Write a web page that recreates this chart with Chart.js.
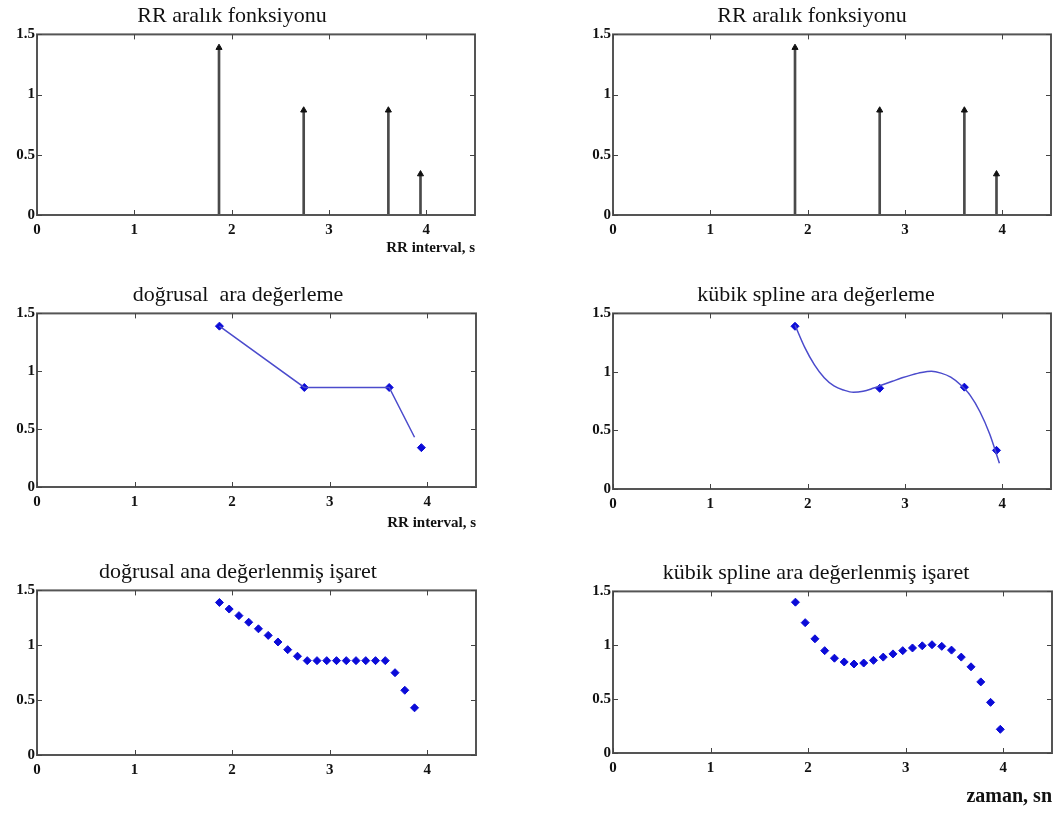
<!DOCTYPE html>
<html>
<head>
<meta charset="utf-8">
<script src="https://cdn.jsdelivr.net/npm/chart.js@4"></script>
<style>
  html, body { margin: 0; padding: 0; background: #fff; width: 1053px; height: 814px; overflow: hidden; position: relative; }
  canvas { position: absolute; }
</style>
</head>
<body>
<canvas id="c1"></canvas>
<canvas id="c2"></canvas>
<canvas id="c3"></canvas>
<canvas id="c4"></canvas>
<canvas id="c5"></canvas>
<canvas id="c6"></canvas>
<script>
// RR interval samples (stem plot)
const rrTimes = [1.87, 2.74, 3.61, 3.94];
const rrValues = [1.39, 0.87, 0.87, 0.34];

// linear interpolation line as drawn (stops at the last grid point)
const linearLineX = [1.87, 2.74, 3.61, 3.87];
const linearLineY = [1.39, 0.86, 0.86, 0.43];

// resampled grid
const sampleTimes = [1.87, 1.97, 2.07, 2.17, 2.27, 2.37, 2.47, 2.57, 2.67, 2.77, 2.87,
  2.97, 3.07, 3.17, 3.27, 3.37, 3.47, 3.57, 3.67, 3.77, 3.87];
const linearSamples = [1.39, 1.33, 1.27, 1.21, 1.15, 1.09, 1.03, 0.96, 0.90, 0.86, 0.86,
  0.86, 0.86, 0.86, 0.86, 0.86, 0.86, 0.86, 0.75, 0.59, 0.43];

const splineTimes = [1.87, 1.97, 2.07, 2.17, 2.27, 2.37, 2.47, 2.57, 2.67, 2.77, 2.87,
  2.97, 3.07, 3.17, 3.27, 3.37, 3.47, 3.57, 3.67, 3.77, 3.87, 3.97];
const splineSamples = [1.40, 1.21, 1.06, 0.95, 0.88, 0.845, 0.826, 0.835, 0.86, 0.89, 0.92,
  0.95, 0.975, 0.995, 1.005, 0.99, 0.955, 0.89, 0.80, 0.66, 0.47, 0.22];

const xTicks = [0, 1, 2, 3, 4];
const yTicks = [0, 0.5, 1, 1.5];

const blue = "#0b0bd8";
const lineBlue = "#4b4bcc";
const serif = "'Liberation Serif', 'DejaVu Serif', serif";

function pts(xs, ys) {
  return xs.map((x, i) => ({ x: x, y: ys[i] }));
}

// box around the plot + inward ticks, like the matlab axes
const boxPlugin = {
  id: "matBox",
  afterDraw(chart) {
    const { ctx, chartArea: a, scales } = chart;
    ctx.save();
    ctx.strokeStyle = "#555";
    ctx.lineWidth = 2;
    ctx.strokeRect(a.left, a.top, a.right - a.left, a.bottom - a.top);
    ctx.lineWidth = 1;
    ctx.strokeStyle = "#444";
    xTicks.forEach((v) => {
      const px = Math.round(scales.x.getPixelForValue(v)) + 0.5;
      ctx.beginPath();
      ctx.moveTo(px, a.bottom); ctx.lineTo(px, a.bottom - 5);
      ctx.moveTo(px, a.top); ctx.lineTo(px, a.top + 5);
      ctx.stroke();
    });
    yTicks.forEach((v) => {
      const py = Math.round(scales.y.getPixelForValue(v)) + 0.5;
      ctx.beginPath();
      ctx.moveTo(a.left, py); ctx.lineTo(a.left + 5, py);
      ctx.moveTo(a.right, py); ctx.lineTo(a.right - 5, py);
      ctx.stroke();
    });
    ctx.restore();
  },
};

function makeChart(id, g, title, datasets, xTitle, xTitleSize) {
  const canvas = document.getElementById(id);
  const w = g.R - g.L;
  const top = g.t - 31;
  const h = g.b + g.xH - top;
  canvas.width = w;
  canvas.height = h;
  canvas.style.left = g.L + "px";
  canvas.style.top = top + "px";
  canvas.style.width = w + "px";
  canvas.style.height = h + "px";

  return new Chart(canvas.getContext("2d"), {
    type: "scatter",
    data: { datasets: datasets },
    plugins: [boxPlugin],
    options: {
      responsive: false,
      animation: false,
      layout: { padding: { left: 0, right: g.R - g.r, top: 0, bottom: 0 } },
      plugins: {
        legend: { display: false },
        tooltip: { enabled: false },
        title: {
          display: true,
          text: title,
          color: "#111",
          font: { family: serif, size: 22, weight: "normal" },
          padding: { top: 0, bottom: 5 },
        },
      },
      scales: {
        x: {
          type: "linear",
          min: 0,
          max: 4.5,
          offset: false,
          grid: { display: false, drawTicks: false },
          border: { display: false },
          ticks: {
            stepSize: 1,
            includeBounds: false,
            autoSkip: false,
            maxRotation: 0,
            padding: 6,
            color: "#111",
            font: { family: serif, size: 15, weight: "bold" },
          },
          title: {
            display: !!xTitle,
            text: xTitle || "",
            align: "end",
            color: "#111",
            font: { family: serif, size: xTitleSize || 15, weight: "bold" },
            padding: 0,
          },
          afterFit(scale) { scale.height = g.xH; },
        },
        y: {
          min: 0,
          max: 1.5,
          grid: { display: false, drawTicks: false },
          border: { display: false },
          ticks: {
            stepSize: 0.5,
            padding: 2,
            color: "#111",
            font: { family: serif, size: 15, weight: "bold" },
            callback: (v) => String(v),
          },
          afterFit(scale) { scale.width = g.l - g.L; },
        },
      },
    },
  });
}

function stemSets() {
  return [
    {
      type: "bar",
      data: pts(rrTimes, rrValues),
      backgroundColor: "#4a4a4a",
      barThickness: 2,
      order: 2,
    },
    {
      data: pts(rrTimes, rrValues),
      pointStyle: "triangle",
      pointRadius: 3.5,
      backgroundColor: "#111",
      borderColor: "#111",
      borderWidth: 1,
      order: 1,
    },
  ];
}

function markerSet(xs, ys) {
  return {
    data: pts(xs, ys),
    pointStyle: "rectRot",
    pointRadius: 4,
    borderColor: blue,
    backgroundColor: blue,
    borderWidth: 1,
  };
}

// panel geometry: plot area l,t,r,b and canvas extent L..R
makeChart("c1", { l: 37, t: 34, r: 476, b: 215, L: -12, R: 480, xH: 42 },
  "RR aralık fonksiyonu", stemSets(), "RR interval, s", 15);

makeChart("c2", { l: 613, t: 34, r: 1052, b: 215, L: 572, R: 1056, xH: 25 },
  "RR aralık fonksiyonu", stemSets());

makeChart("c3", { l: 37, t: 313, r: 476, b: 487, L: 0, R: 532, xH: 45 },
  "doğrusal  ara değerleme", [
    {
      data: pts(linearLineX, linearLineY),
      showLine: true,
      borderColor: lineBlue,
      borderWidth: 1.5,
      pointRadius: 0,
    },
    markerSet(rrTimes, [1.39, 0.86, 0.86, 0.34]),
  ], "RR interval, s", 15);

makeChart("c4", { l: 613, t: 313, r: 1052, b: 489, L: 580, R: 1056, xH: 25 },
  "kübik spline ara değerleme", [
    {
      data: pts(splineTimes, splineSamples),
      showLine: true,
      borderColor: lineBlue,
      borderWidth: 1.5,
      pointRadius: 0,
      cubicInterpolationMode: "monotone",
    },
    markerSet(rrTimes, [1.39, 0.86, 0.87, 0.33]),
  ]);

makeChart("c5", { l: 37, t: 590, r: 476, b: 755, L: 0, R: 494, xH: 25 },
  "doğrusal ana değerlenmiş işaret", [markerSet(sampleTimes, linearSamples)]);

makeChart("c6", { l: 613, t: 591, r: 1052, b: 753, L: 580, R: 1076, xH: 56 },
  "kübik spline ara değerlenmiş işaret", [markerSet(splineTimes, splineSamples)],
  "zaman, sn", 20);
</script>
</body>
</html>
